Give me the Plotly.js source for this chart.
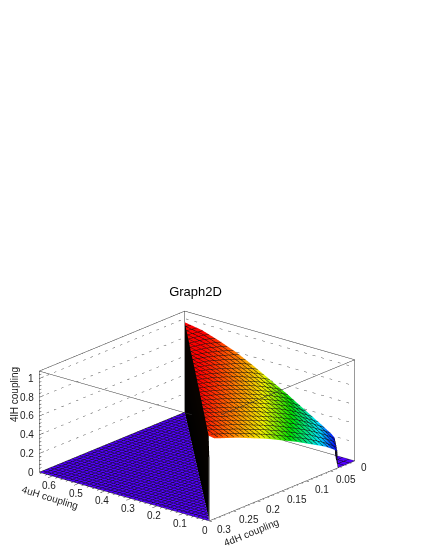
<!DOCTYPE html>
<html><head><meta charset="utf-8">
<script src="https://cdn.plot.ly/plotly-3.0.1.min.js"></script>
<style>html,body{margin:0;padding:0;background:#fff}</style></head>
<body><div id="g" style="width:425px;height:550px"></div>
<script>
const UH_MAX = 0.65, DH_MAX = 0.3, Z_MAX = 1.08;
// fraction of the way from the origin corner to the diagonal edge
const radial = [0, 0.115, 0.12, 0.14, 0.2, 0.3, 0.4, 0.5, 0.6, 0.7, 0.8, 0.9, 1];
// fraction along the rows from the 4uH edge to the 4dH edge
const along = [0, 0.25, 0.5, 0.75, 1];
const heights = [
 [0,0,0,0,0],
 [0,0,0,0,0],
 [0.19,0.19,0.19,0.18,0.18],
 [0.22,0.22,0.22,0.21,0.21],
 [0.29,0.29,0.29,0.28,0.28],
 [0.40,0.40,0.40,0.39,0.37],
 [0.51,0.51,0.50,0.48,0.46],
 [0.61,0.60,0.59,0.57,0.54],
 [0.71,0.69,0.67,0.65,0.62],
 [0.80,0.77,0.75,0.72,0.69],
 [0.87,0.84,0.82,0.79,0.76],
 [0.93,0.90,0.88,0.85,0.82],
 [0.96,0.94,0.93,0.91,0.88]
];
const zTicks = [0,0.2,0.4,0.6,0.8,1];
const uTicks = [0.1,0.2,0.3,0.4,0.5,0.6];
const dTicks = [0.05,0.1,0.15,0.2,0.25,0.3];
const uMinor = [0.02,0.04,0.06,0.08,0.12,0.14,0.16,0.18,0.22,0.24,0.26,0.28,0.32,0.34,0.36,0.38,0.42,0.44,0.46,0.48,0.52,0.54,0.56,0.58,0.62,0.64];
const dMinor = [0.01,0.02,0.03,0.04,0.06,0.07,0.08,0.09,0.11,0.12,0.13,0.14,0.16,0.17,0.18,0.19,0.21,0.22,0.23,0.24,0.26,0.27,0.28,0.29];
const zMinor = [0.04,0.08,0.12,0.16,0.24,0.28,0.32,0.36,0.44,0.48,0.52,0.56,0.64,0.68,0.72,0.76,0.84,0.88,0.92,0.96,1.04];
const uLabels = ['0.1','0.2','0.3','0.4','0.5','0.6'];
const dLabels = ['0.05','0.1','0.15','0.2','0.25','0.3'];
const zLabels = ['0','0.2','0.4','0.6','0.8','1'];

const rainbow = [[0,'#5200ff'],[0.2,'#0000ff'],[0.33,'#00e5ff'],[0.52,'#00e000'],[0.68,'#f0f000'],[0.82,'#ff8000'],[0.96,'#ff0000'],[1,'#ff0000']];
const meshOf = n => ({
  x:{show:true,start:0,end:UH_MAX,size:UH_MAX/n,color:'#111',width:1,highlight:false},
  y:{show:true,start:0,end:DH_MAX,size:DH_MAX/n,color:'#111',width:1,highlight:false},
  z:{highlight:false}
});
const flat = {ambient:1,diffuse:0,specular:0,roughness:1,fresnel:0};

const sx = radial.map(r => along.map(t => UH_MAX*r*(1-t)));
const sy = radial.map(r => along.map(t => DH_MAX*r*t));
const main = {type:'surface',x:sx,y:sy,z:heights,surfacecolor:heights,cmin:0,cmax:0.96,colorscale:rainbow,
  showscale:false,contours:meshOf(28),lighting:flat,hoverinfo:'skip'};

// floor triangle beyond the diagonal, z = 0
const fx = [0,1].map(s => along.map(t => UH_MAX*(1-t) + s*UH_MAX*t));
const fy = [0,1].map(s => along.map(t => DH_MAX*t + s*DH_MAX*(1-t)));
const floorZ = [[0,0,0,0,0],[0,0,0,0,0]];
const floor = {type:'surface',x:fx,y:fy,z:floorZ,surfacecolor:floorZ,cmin:0,cmax:0.96,colorscale:rainbow,
  showscale:false,contours:meshOf(40),lighting:flat,hoverinfo:'skip'};

// wall on the diagonal
const wx = [0,1].map(() => along.map(t => UH_MAX*(1-t)));
const wy = [0,1].map(() => along.map(t => DH_MAX*t));
const wz = [[0,0,0,0,0], heights[heights.length-1]];
const wall = {type:'surface',x:wx,y:wy,z:wz,surfacecolor:wz,cmin:0,cmax:1,colorscale:[[0,'#000'],[1,'#0a0400']],
  showscale:false,lighting:flat,hoverinfo:'skip'};

function seg(list,color,width,dash){
  const x=[],y=[],z=[];
  list.forEach(s=>{x.push(s[0],s[3],null);y.push(s[1],s[4],null);z.push(s[2],s[5],null);});
  return {type:'scatter3d',mode:'lines',x,y,z,line:{color,width,dash:dash||'solid'},hoverinfo:'skip',showlegend:false};
}
const U=UH_MAX,D=DH_MAX,Z=Z_MAX;
const box = seg([
 [U,D,0,0,D,0],[0,D,0,0,0,0],[U,D,0,U,0,0],[U,0,0,0,0,0],
 [U,D,Z,U,0,Z],[U,0,Z,0,0,Z],[0,0,Z,0,D,Z],[0,D,Z,U,D,Z],
 [U,D,0,U,D,Z],[U,0,0,U,0,Z],[0,0,0,0,0,Z]
],'#333',1);
const gray = seg([[0,D,0,0,D,heights[12][4]]],'#aaa',2);
const grid = seg(zTicks.slice(1).flatMap(v=>[[U,D,v,U,0,v],[U,0,v,0,0,v]]),'#555',1,'dot');
const ticks = seg([
 ...uTicks.map(v=>[v,D,0,v,D*1.03,0]),
 ...uMinor.map(v=>[v,D,0,v,D*1.015,0]),
 ...dTicks.map(v=>[0,v,0,-U*0.016,v,0]),
 ...dMinor.map(v=>[0,v,0,-U*0.008,v,0]),
 ...zTicks.map(v=>[U,D,v,U,D*0.97,v]),
 ...zMinor.map(v=>[U,D,v,U,D*0.985,v])
],'#333',1);

const lab = (x,y,z,text,xs,ys,xa)=>({x,y,z,text,showarrow:false,xshift:xs,yshift:ys,xanchor:xa||'center',yanchor:'middle',font:{family:'Liberation Sans',size:10,color:'#222'}});
const anns = [
 ...uTicks.map((v,i)=>lab(v,D,0,uLabels[i],-3,-10)),
 lab(0,D,0,'0',-4,-10),
 ...dTicks.map((v,i)=>lab(0,v,0,dLabels[i],15,-9)),
 lab(0,0,0,'0',9,-7),
 ...zTicks.map((v,i)=>lab(U,D,v,zLabels[i],-3,0,'right'))
];
const hidden = r=>({visible:false,range:r,autorange:false,showspikes:false});
const title = (x,y,text,angle)=>({xref:'paper',yref:'paper',x:x/425,y:1-y/550,xanchor:'center',yanchor:'middle',text,textangle:angle,showarrow:false,font:{family:'Liberation Sans',size:10,color:'#222'}});
const layout = {
  width:425,height:550,margin:{l:0,r:0,t:0,b:0},paper_bgcolor:'#fff',showlegend:false,
  title:{text:'Graph2D',x:0.46,xanchor:'center',y:0.471,yanchor:'middle',font:{family:'Liberation Sans',size:13,color:'#000'}},
  scene:{
    domain:{x:[0,0.928],y:[0.002,0.486]},
    xaxis:hidden([-U*0.05,U*1.05]),yaxis:hidden([-D*0.05,D*1.05]),zaxis:hidden([0,Z]),
    aspectmode:'manual',aspectratio:{x:1.83,y:1.88,z:0.81},
    camera:{projection:{type:'orthographic'},up:{x:0,y:0,z:1},center:{x:0,y:0,z:0},eye:{x:-0.70,y:0.84,z:0.40}},
    annotations:anns
  },
  annotations:[
    title(50,497,'4uH coupling',17),
    title(251,532,'4dH coupling',-22),
    title(14,395,'4lH coupling',-90)
  ]
};
Plotly.newPlot('g',[floor,wall,main,grid,box,gray,ticks],layout,{displayModeBar:false});
</script></body></html>
